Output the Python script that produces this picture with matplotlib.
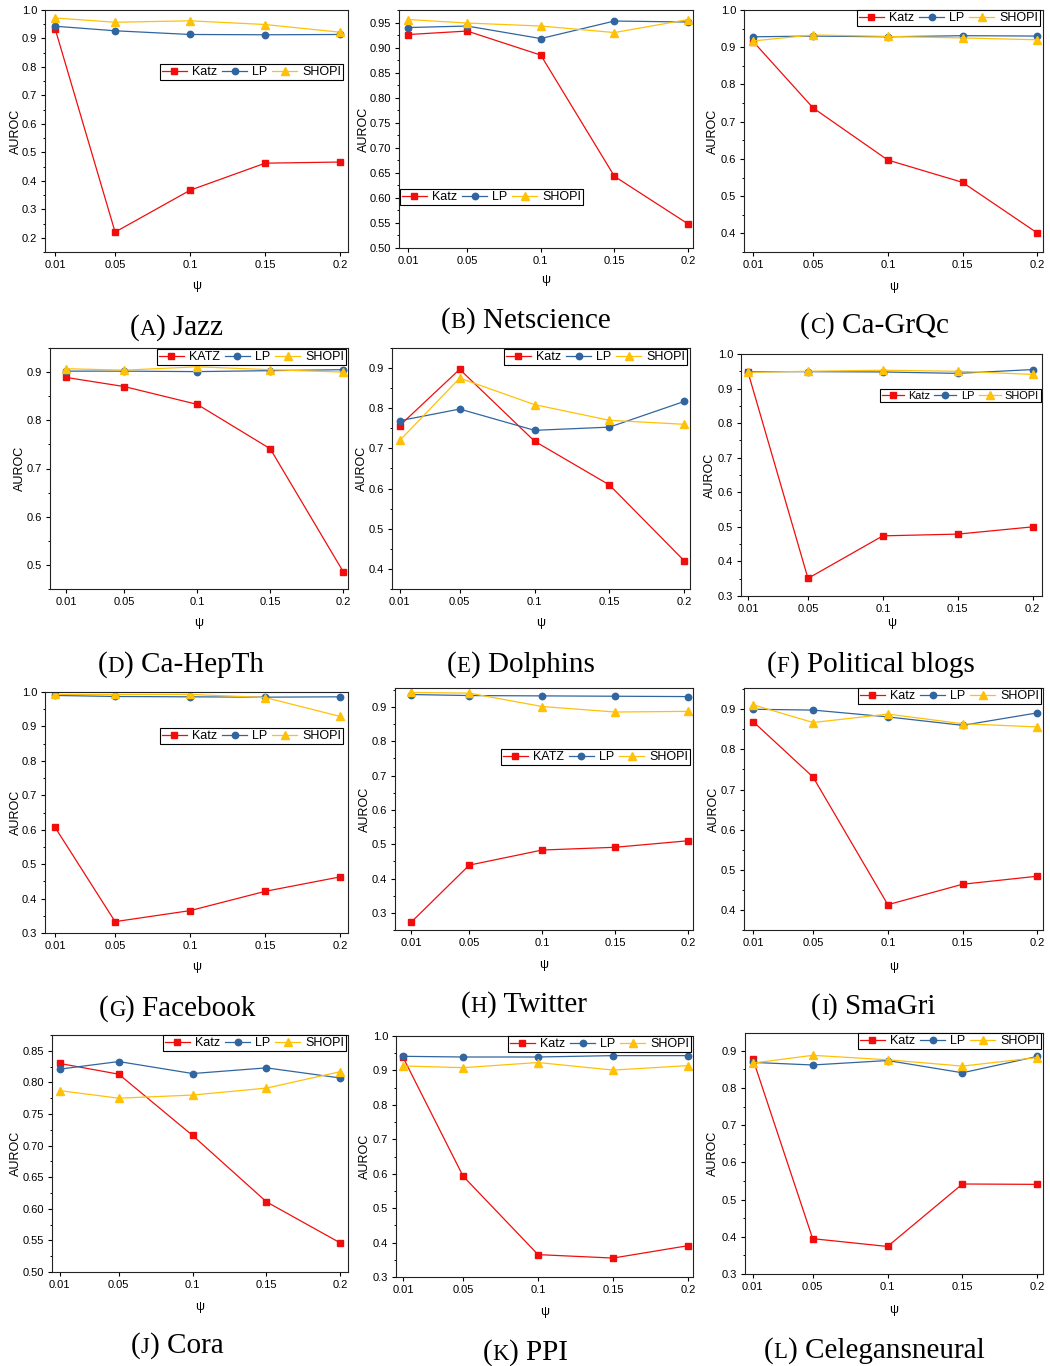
import matplotlib
matplotlib.use("Agg")
import matplotlib.pyplot as plt
from matplotlib.ticker import MultipleLocator, FormatStrFormatter

W, H = 1050, 1366

PSI = [0.01, 0.05, 0.1, 0.15, 0.2]
PSI_LABELS = ["0.01", "0.05", "0.1", "0.15", "0.2"]

# AUROC values, one list per method and dataset
jazz_katz = [0.935, 0.220, 0.367, 0.462, 0.466]
jazz_lp = [0.943, 0.927, 0.914, 0.913, 0.914]
jazz_shopi = [0.972, 0.957, 0.962, 0.949, 0.922]

netsci_katz = [0.926, 0.933, 0.885, 0.643, 0.548]
netsci_lp = [0.940, 0.943, 0.918, 0.953, 0.951]
netsci_shopi = [0.956, 0.949, 0.943, 0.930, 0.956]

grqc_katz = [0.915, 0.737, 0.597, 0.537, 0.401]
grqc_lp = [0.928, 0.930, 0.928, 0.931, 0.930]
grqc_shopi = [0.917, 0.933, 0.929, 0.925, 0.920]

hepth_katz = [0.889, 0.870, 0.833, 0.741, 0.486]
hepth_lp = [0.902, 0.902, 0.901, 0.903, 0.905]
hepth_shopi = [0.907, 0.904, 0.911, 0.905, 0.900]

dolphins_katz = [0.757, 0.897, 0.718, 0.609, 0.420]
dolphins_lp = [0.769, 0.798, 0.745, 0.753, 0.817]
dolphins_shopi = [0.720, 0.875, 0.809, 0.770, 0.760]

polblogs_katz = [0.947, 0.351, 0.474, 0.479, 0.500]
polblogs_lp = [0.949, 0.949, 0.948, 0.944, 0.955]
polblogs_shopi = [0.947, 0.950, 0.953, 0.950, 0.941]

facebook_katz = [0.607, 0.333, 0.365, 0.421, 0.463]
facebook_lp = [0.990, 0.987, 0.986, 0.985, 0.986]
facebook_shopi = [0.993, 0.993, 0.993, 0.984, 0.929]

twitter_katz = [0.272, 0.439, 0.483, 0.491, 0.510]
twitter_lp = [0.936, 0.933, 0.932, 0.931, 0.930]
twitter_shopi = [0.942, 0.940, 0.901, 0.885, 0.887]

smagri_katz = [0.869, 0.731, 0.413, 0.464, 0.484]
smagri_lp = [0.900, 0.898, 0.881, 0.860, 0.891]
smagri_shopi = [0.911, 0.867, 0.888, 0.864, 0.856]

cora_katz = [0.830, 0.813, 0.716, 0.611, 0.546]
cora_lp = [0.821, 0.833, 0.814, 0.823, 0.807]
cora_shopi = [0.787, 0.775, 0.780, 0.791, 0.817]

ppi_katz = [0.938, 0.593, 0.365, 0.355, 0.391]
ppi_lp = [0.941, 0.939, 0.939, 0.943, 0.943]
ppi_shopi = [0.913, 0.908, 0.923, 0.901, 0.914]

celegans_katz = [0.879, 0.395, 0.374, 0.542, 0.541]
celegans_lp = [0.869, 0.862, 0.874, 0.841, 0.885]
celegans_shopi = [0.867, 0.888, 0.876, 0.859, 0.882]

RED = "#f20d0d"
BLUE = "#31659f"
GOLD = "#ffc107"

# letter, name, katz label, series, ylim, major step, decimals
panels = [
    ("A", "Jazz", "Katz", (jazz_katz, jazz_lp, jazz_shopi), (0.15, 1.0), 0.1, 1),
    ("B", "Netscience", "Katz", (netsci_katz, netsci_lp, netsci_shopi), (0.50, 0.975), 0.05, 2),
    ("C", "Ca-GrQc", "Katz", (grqc_katz, grqc_lp, grqc_shopi), (0.35, 1.0), 0.1, 1),
    ("D", "Ca-HepTh", "KATZ", (hepth_katz, hepth_lp, hepth_shopi), (0.45, 0.95), 0.1, 1),
    ("E", "Dolphins", "Katz", (dolphins_katz, dolphins_lp, dolphins_shopi), (0.35, 0.95), 0.1, 1),
    ("F", "Political blogs", "Katz", (polblogs_katz, polblogs_lp, polblogs_shopi), (0.3, 1.0), 0.1, 1),
    ("G", "Facebook", "Katz", (facebook_katz, facebook_lp, facebook_shopi), (0.3, 1.0), 0.1, 1),
    ("H", "Twitter", "KATZ", (twitter_katz, twitter_lp, twitter_shopi), (0.25, 0.955), 0.1, 1),
    ("I", "SmaGri", "Katz", (smagri_katz, smagri_lp, smagri_shopi), (0.35, 0.953), 0.1, 1),
    ("J", "Cora", "Katz", (cora_katz, cora_lp, cora_shopi), (0.5, 0.875), 0.05, 2),
    ("K", "PPI", "Katz", (ppi_katz, ppi_lp, ppi_shopi), (0.3, 1.0), 0.1, 1),
    ("L", "Celegansneural", "Katz", (celegans_katz, celegans_lp, celegans_shopi), (0.3, 0.948), 0.1, 1),
]

# pixel layout: axes box (l, t, r, b), xlim, AUROC label x, psi label y,
# legend top-left (x, y), legend font size, caption (left x, centre y)
layout = [
    ((45, 10, 348, 252), (0.0033, 0.2052), 16, 286, (160, 64), 9.0, (130, 325)),
    ((399, 10, 693, 248), (0.0038, 0.2033), 364, 280, (400, 189), 9.0, (441, 318)),
    ((744, 10, 1043, 252), (0.0038, 0.2038), 713, 287, (857, 10), 9.0, (800, 323)),
    ((50, 348, 348, 589), (-0.0009, 0.2033), 20, 623, (157, 349), 9.0, (98, 662)),
    ((392, 348, 690, 589), (0.0048, 0.2038), 362, 623, (504, 349), 9.0, (447, 662)),
    ((741, 354, 1042, 596), (0.0053, 0.2062), 710, 623, (880, 389), 7.9, (767, 662)),
    ((45, 692, 348, 933), (0.0033, 0.2052), 16, 967, (160, 728), 9.0, (99, 1006)),
    ((395, 688, 693, 930), (-0.0009, 0.2033), 365, 965, (501, 749), 9.0, (461, 1002)),
    ((744, 688, 1043, 930), (0.0038, 0.2038), 714, 967, (858, 688), 9.0, (811, 1004)),
    ((52, 1035, 348, 1272), (0.0048, 0.2052), 16, 1307, (163, 1035), 9.0, (131, 1343)),
    ((396, 1036, 693, 1277), (0.0053, 0.2033), 365, 1312, (508, 1036), 9.0, (483, 1350)),
    ((745, 1033, 1043, 1274), (0.0048, 0.2038), 713, 1310, (858, 1033), 9.0, (764, 1348)),
]

plt.rcParams["font.family"] = ["Liberation Sans", "DejaVu Sans"]

fig = plt.figure(figsize=(W / 100, H / 100), dpi=100)
renderer = fig.canvas.get_renderer()


def caption(x, y, letter, name, size=21):
    # "(A) Jazz" with the letter in small caps
    xf = x / W
    yf = 1 - (y + 10) / H
    for s, fs in (("(", size), (letter, size * 0.78), (") " + name, size)):
        t = fig.text(xf, yf, s, fontsize=fs, family="Liberation Serif",
                     va="baseline", ha="left")
        xf = t.get_window_extent(renderer).x1 / W


for (letter, name, katz_name, series, ylim, step, dec), lay in zip(panels, layout):
    (l, t, r, b), xlim, ylab_x, xlab_y, (lgx, lgy), lgfs, (cx, cy) = lay
    ax = fig.add_axes([l / W, 1 - b / H, (r - l) / W, (b - t) / H])
    katz, lp, shopi = series

    ax.plot(PSI, katz, color=RED, lw=0.9, marker="s", ms=4.2, label=katz_name)
    ax.plot(PSI, lp, color=BLUE, lw=0.9, marker="o", ms=4.6, label="LP")
    ax.plot(PSI, shopi, color=GOLD, lw=0.9, marker="^", ms=5.2, label="SHOPI")

    ax.set_xlim(*xlim)
    ax.set_ylim(*ylim)
    ax.set_xticks(PSI)
    ax.set_xticklabels(PSI_LABELS)
    ax.yaxis.set_major_locator(MultipleLocator(step))
    ax.yaxis.set_minor_locator(MultipleLocator(step / 2))
    ax.yaxis.set_major_formatter(FormatStrFormatter(f"%.{dec}f"))
    ax.tick_params(axis="both", which="major", direction="out", length=3,
                   width=0.8, labelsize=8, pad=2.5)
    ax.tick_params(axis="y", which="minor", direction="out", length=1.8, width=0.7)
    for sp in ax.spines.values():
        sp.set_linewidth(0.8)
        sp.set_color("#222222")

    ax.set_ylabel("AUROC", fontsize=9)
    ax.set_xlabel("ψ", fontsize=9)
    ax.yaxis.set_label_coords(ylab_x / W, 1 - (t + b) / 2 / H, transform=fig.transFigure)
    ax.xaxis.set_label_coords(((l + r) / 2) / W, 1 - xlab_y / H, transform=fig.transFigure)
    ax.xaxis.label.set_va("center")
    ax.yaxis.label.set_va("center")

    leg = ax.legend(loc="upper left", bbox_to_anchor=(lgx / W, 1 - lgy / H),
                    bbox_transform=fig.transFigure, ncol=3, fontsize=lgfs,
                    frameon=True, fancybox=False, edgecolor="black", framealpha=1,
                    borderaxespad=0, borderpad=0.15, handlelength=2.0,
                    handletextpad=0.4, columnspacing=0.4, numpoints=1)
    leg.get_frame().set_linewidth(0.8)

    caption(cx, cy, letter, name)

fig.savefig("out.png", dpi=100)
